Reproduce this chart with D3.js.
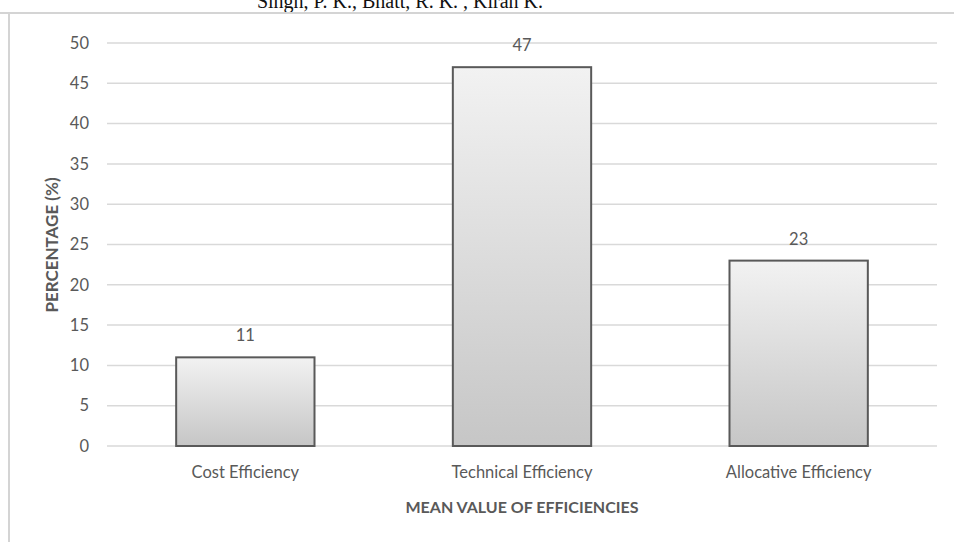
<!DOCTYPE html>
<html><head><meta charset="utf-8">
<script src="https://cdn.jsdelivr.net/npm/d3@7"></script>
<style>body{margin:0;background:#fff}svg{display:block}</style>
</head><body>
<script>
const categories = ["Cost Efficiency", "Technical Efficiency", "Allocative Efficiency"];
const values = [11, 47, 23];
const yTicks = [0, 5, 10, 15, 20, 25, 30, 35, 40, 45, 50];

const W = 954, H = 542;
const svg = d3.select("body").append("svg").attr("width", W).attr("height", H);
const font = "Lato, 'Open Sans', sans-serif";

// header text (clipped at top, as in the source page)
svg.append("text").attr("x", 400).attr("y", 8).attr("text-anchor", "middle")
  .attr("font-family", "'Liberation Serif', 'Times New Roman', serif").attr("font-size", 20)
  .attr("fill", "#111").text("Singh, P. K., Bhatt, R. K. , Kiran K.");
// page rules
svg.append("line").attr("x1", 0).attr("x2", 954).attr("y1", 13).attr("y2", 13)
  .attr("stroke", "#d4d4d4").attr("stroke-width", 2);
svg.append("line").attr("x1", 9).attr("x2", 9).attr("y1", 13).attr("y2", 542)
  .attr("stroke", "#d4d4d4").attr("stroke-width", 2);

const x = d3.scaleBand().domain(categories).range([107, 937]).paddingInner(0.5).paddingOuter(0.25);
const y = d3.scaleLinear().domain([0, 50]).range([446, 43]);

const defs = svg.append("defs");
const g = defs.append("linearGradient").attr("id", "bg").attr("x1", 0).attr("x2", 0).attr("y1", 0).attr("y2", 1);
g.append("stop").attr("offset", "0%").attr("stop-color", "#f2f2f2");
g.append("stop").attr("offset", "100%").attr("stop-color", "#c6c6c6");

// gridlines
svg.append("g").selectAll("line").data(yTicks).join("line")
  .attr("x1", 107).attr("x2", 937).attr("y1", d => y(d)).attr("y2", d => y(d))
  .attr("stroke", "#d9d9d9").attr("stroke-width", 1.5);

// y axis labels
const ya = svg.append("g").attr("transform", "translate(107,0)")
  .call(d3.axisLeft(y).tickValues(yTicks).tickSize(0).tickPadding(18));
ya.select(".domain").remove();
ya.selectAll("text").attr("font-family", font).attr("font-size", 16.5).attr("fill", "#595959");

// bars
svg.append("g").selectAll("rect").data(values).join("rect")
  .attr("x", (d, i) => x(categories[i])).attr("width", x.bandwidth())
  .attr("y", d => y(d)).attr("height", d => y(0) - y(d))
  .attr("fill", "url(#bg)").attr("stroke", "#595959").attr("stroke-width", 2);

// value labels
svg.append("g").selectAll("text").data(values).join("text")
  .attr("x", (d, i) => x(categories[i]) + x.bandwidth() / 2).attr("y", d => y(d) - 16)
  .attr("text-anchor", "middle").attr("font-family", font).attr("font-size", 16.5)
  .attr("fill", "#595959").text(d => d);

// x axis labels
const xa = svg.append("g").attr("transform", "translate(0,446)")
  .call(d3.axisBottom(x).tickSize(0).tickPadding(20));
xa.select(".domain").remove();
xa.selectAll("text").attr("font-family", font).attr("font-size", 16.5).attr("fill", "#595959");

// titles
svg.append("text").attr("x", 522).attr("y", 513).attr("text-anchor", "middle")
  .attr("font-family", font).attr("font-weight", "bold").attr("font-size", 16)
  .attr("fill", "#595959").text("MEAN VALUE OF EFFICIENCIES");
svg.append("text").attr("transform", "translate(58,245) rotate(-90)").attr("text-anchor", "middle")
  .attr("font-family", font).attr("font-weight", "bold").attr("font-size", 17)
  .attr("fill", "#595959").text("PERCENTAGE (%)");
</script>
</body></html>
